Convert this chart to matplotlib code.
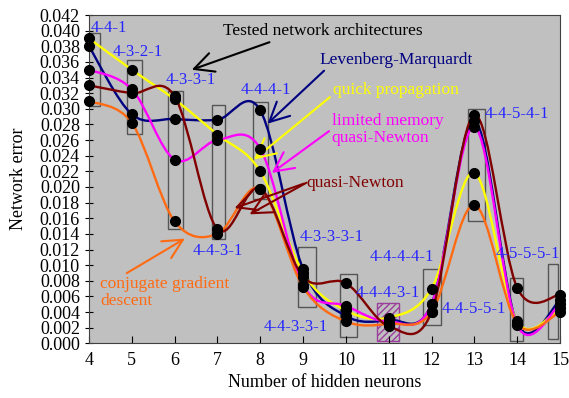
import numpy as np
import matplotlib
matplotlib.use('Agg')
import matplotlib.pyplot as plt
from matplotlib.path import Path
from matplotlib.patches import PathPatch, Rectangle

plt.rcParams['font.family'] = ['Liberation Serif', 'DejaVu Serif']

# data
neurons = [4, 5, 6, 7, 8, 9, 10, 11, 12, 13, 14, 15]
lm_err = [0.0380, 0.0293, 0.0287, 0.0286, 0.0298, 0.0095, 0.0035, 0.0030, 0.0050, 0.0285, 0.0025, 0.0055]
qp_err = [0.0390, 0.0350, 0.0312, 0.0267, 0.0220, 0.0090, 0.0042, 0.0033, 0.0070, 0.0218, 0.0028, 0.0045]
lbfgs_err = [0.0350, 0.0325, 0.0235, 0.0260, 0.0249, 0.0075, 0.0048, 0.0028, 0.0050, 0.0277, 0.0023, 0.0050]
qn_err = [0.0330, 0.0320, 0.0316, 0.0146, 0.0198, 0.0085, 0.0077, 0.0022, 0.0040, 0.0292, 0.0071, 0.0062]
cg_err = [0.0310, 0.0282, 0.0156, 0.0140, 0.0198, 0.0072, 0.0028, 0.0025, 0.0040, 0.0177, 0.0025, 0.0040]

architectures = ['4-4-1', '4-3-2-1', '4-3-3-1', '4-4-3-1', '4-4-4-1', '4-3-3-3-1', '4-4-3-3-1',
                 '4-4-4-3-1', '4-4-4-4-1', '4-4-5-5-1', '4-4-5-4-1', '4-5-5-5-1']

# boxes around the tested architectures (x0, x1, y0, y1)
box_x0 = [3.80, 4.88, 5.84, 6.88, 7.82, 8.89, 9.87, 10.72, 11.81, 12.86, 13.84, 14.73]
box_x1 = [4.25, 5.23, 6.19, 7.18, 8.19, 9.30, 10.27, 11.25, 12.21, 13.24, 14.14, 14.96]
box_y0 = [0.0304, 0.0268, 0.0146, 0.0133, 0.0185, 0.0046, 0.0008, 0.0003, 0.0023, 0.0157, 0.0003, 0.0006]
box_y1 = [0.0397, 0.0362, 0.0323, 0.0305, 0.0309, 0.0123, 0.0089, 0.0052, 0.0095, 0.0300, 0.0083, 0.0101]

# label anchor (left, centre)
lab_x = [4.04, 4.55, 5.78, 6.42, 7.53, 8.91, 8.07, 10.23, 10.56, 12.24, 13.25, 13.49]
lab_y = [0.0403, 0.0373, 0.0337, 0.0118, 0.0324, 0.0136, 0.0021, 0.0064, 0.0111, 0.0044, 0.0293, 0.0114]

c_lm = '#000080'
c_qp = '#FFFF00'
c_lb = '#FF00FF'
c_qn = '#800000'
c_cg = '#FF6A13'
c_lab = '#2424FF'


def smooth_path(x, y):
    # Catmull-Rom style smoothing written as cubic Bezier segments
    x = np.asarray(x, float)
    y = np.asarray(y, float)
    xp = np.r_[x[0], x, x[-1]]
    yp = np.r_[y[0], y, y[-1]]
    verts = [(x[0], y[0])]
    codes = [Path.MOVETO]
    for i in range(len(x) - 1):
        c1 = (x[i] + (xp[i + 2] - xp[i]) / 6, y[i] + (yp[i + 2] - yp[i]) / 6)
        c2 = (x[i + 1] - (xp[i + 3] - xp[i + 1]) / 6, y[i + 1] - (yp[i + 3] - yp[i + 1]) / 6)
        verts += [c1, c2, (x[i + 1], y[i + 1])]
        codes += [Path.CURVE4] * 3
    return Path(verts, codes)


fig, ax = plt.subplots(figsize=(5.69, 3.98), dpi=100)
fig.subplots_adjust(left=0.1564, right=0.9842, top=0.9623, bottom=0.1374)
ax.set_facecolor('#C0C0C0')

# boxes
for i in range(len(neurons)):
    if architectures[i] == '4-4-4-3-1':
        ax.add_patch(Rectangle((box_x0[i], box_y0[i]), box_x1[i] - box_x0[i], box_y1[i] - box_y0[i],
                               facecolor='none', edgecolor='#9B3D9B', hatch='/////', lw=1, zorder=1))
    else:
        ax.add_patch(Rectangle((box_x0[i], box_y0[i]), box_x1[i] - box_x0[i], box_y1[i] - box_y0[i],
                               facecolor='none', edgecolor='#555555', lw=1, zorder=1))

for ys, col in [(lm_err, c_lm), (qp_err, c_qp), (lbfgs_err, c_lb), (cg_err, c_cg), (qn_err, c_qn)]:
    ax.add_patch(PathPatch(smooth_path(neurons, ys), fill=False, edgecolor=col, lw=1.7, zorder=2))
    ax.plot(neurons, ys, 'o', color='black', markersize=7, zorder=4, clip_on=False)

for t, lx, ly in zip(architectures, lab_x, lab_y):
    ax.text(lx, ly, t, color=c_lab, fontsize=12, ha='left', va='center', zorder=5)

ax.set_xlim(4, 15)
ax.set_ylim(0, 0.042)
ax.set_xticks(neurons)
ax.set_yticks(np.arange(0, 0.0421, 0.002))
ax.set_yticklabels(['%.3f' % v for v in np.arange(0, 0.0421, 0.002)])
ax.tick_params(axis='x', direction='in', length=5, labelsize=13, pad=6)
ax.tick_params(axis='y', direction='inout', length=6, labelsize=13)
for s in ax.spines.values():
    s.set_color('#404040')

ax.set_xlabel('Number of hidden neurons', fontsize=13)
ax.set_ylabel('Network error', fontsize=13, labelpad=9)

# annotations with arrows
arw = dict(arrowstyle='->,head_length=0.7,head_width=0.35', lw=1.5, mutation_scale=20,
           shrinkA=0, shrinkB=0)
ax.annotate('Tested network architectures', xy=(6.40, 0.0350), xytext=(9.47, 0.0399),
            fontsize=12.5, color='black', ha='center', va='center',
            arrowprops=dict(arw, color='black', relpos=(0.27, 0.0)))
ax.annotate('Levenberg-Marquardt', xy=(8.17, 0.0281), xytext=(9.38, 0.03625),
            fontsize=12.5, color=c_lm, ha='left', va='center',
            arrowprops=dict(arw, color=c_lm, relpos=(0.05, 0.0)))
ax.annotate('quick propagation', xy=(7.85, 0.0235), xytext=(9.69, 0.0324),
            fontsize=12.5, color=c_qp, ha='left', va='center',
            arrowprops=dict(arw, color=c_qp, relpos=(0.0, 0.2)))
ax.annotate('limited memory\nquasi-Newton', xy=(8.27, 0.0218), xytext=(9.67, 0.0274),
            fontsize=12.5, color=c_lb, ha='left', va='center', linespacing=1.1,
            arrowprops=dict(arw, color=c_lb, relpos=(0.0, 0.5)))
ax.annotate('quasi-Newton', xy=(7.4, 0.0173), xytext=(9.08, 0.02055),
            fontsize=12.5, color=c_qn, ha='left', va='center',
            arrowprops=dict(arw, color=c_qn, relpos=(0.0, 0.5)))
ax.annotate('', xy=(7.75, 0.0165), xytext=(9.08, 0.02055),
            arrowprops=dict(arw, color=c_qn))
ax.annotate('conjugate gradient\ndescent', xy=(6.24, 0.0134), xytext=(4.26, 0.0065),
            fontsize=12.5, color=c_cg, ha='left', va='center', linespacing=1.1,
            arrowprops=dict(arw, color=c_cg, relpos=(0.17, 1.0)))

fig.savefig('out.png', dpi=100)
